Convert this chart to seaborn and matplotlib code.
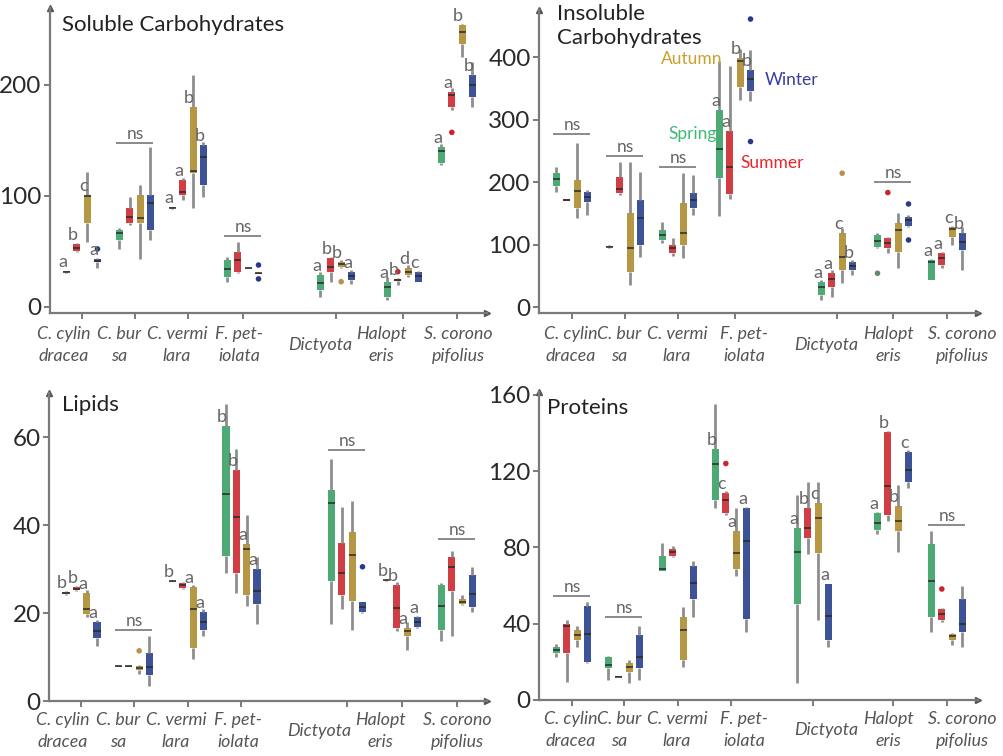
import matplotlib
matplotlib.use("Agg")
import numpy as np
import pandas as pd
import matplotlib.pyplot as plt
import seaborn as sns

sns.set_theme(style="white")
plt.rcParams["font.family"] = ["Lato", "DejaVu Sans"]

# ---------------------------------------------------------------- data
species = ["C. cylindracea", "C. bursa", "C. vermilara", "F. petiolata",
           "Dictyota", "Halopteris", "S. coronopifolius"]
species_ticklabels = ["C. cylin\ndracea", "C. bur\nsa", "C. vermi\nlara", "F. pet-\niolata",
                      "Dictyota", "Halopt\neris", "S. corono\npifolius"]
seasons = ["Spring", "Summer", "Autumn", "Winter"]

# Five-number summaries (whisker low, Q1, median, Q3, whisker high),
# one entry per species x season (Spring, Summer, Autumn, Winter).
sol_lo  = [30.5, 49, 58.6, 34.5,   51.6, 73.6, 42.6, 60,    88, 96, 88.6, 99,      22.5, 30, 33.5, 29,
           9, 22, 35, 20,          6, 19.5, 27, 22,         127.6, 177, 225, 180]
sol_q1  = [31, 50.5, 75.7, 40,     60, 75.7, 75, 69,        88.5, 100.6, 120, 109.6, 27, 31.5, 34, 29.5,
           15, 31, 36, 24,         9, 23, 28.5, 22.5,       129, 180, 237, 189]
sol_med = [31.5, 53, 100, 41,      66, 80.5, 80, 93,        89, 103.6, 122.5, 135,   33.6, 42, 34.5, 30,
           21.6, 36, 38, 27.6,     17.5, 24, 31.5, 27.6,    140, 190.7, 247.7, 199.7]
sol_q3  = [32, 56.5, 101, 42.5,    69, 88.6, 100.6, 100.6,  89.5, 114, 180, 145.6,   42, 49.5, 35, 30.5,
           28.5, 44, 40.5, 31.5,   22.5, 25, 34.6, 31.5,    144, 193.7, 253.8, 208.7]
sol_hi  = [32.5, 57, 121.6, 44,    70.6, 99, 109.6, 143.5,  90, 115.6, 208.7, 148.6, 44.4, 58.6, 36, 31,
           31, 45, 42, 33,         27, 25.5, 37.5, 32,      146.6, 196.7, 255, 220.7]

ins_lo  = [185, 170, 142.6, 148,   95, 180, 35.8, 81,       103.6, 82, 78.5, 148,    146, 173, 332, 329.6,
           11.7, 17, 38.5, 51.7,   94.6, 86.5, 62.5, 128,   43, 63, 100, 59.8]
ins_q1  = [195, 171, 158.7, 169,   96, 183.8, 57, 100,      108, 86.5, 100, 158.7,   206.7, 181.2, 352.5, 347,
           19.7, 33, 59.8, 59.8,   97, 94.6, 89, 130.3,     43.8, 67.8, 113, 91.8]
ins_med = [205.7, 172, 186.4, 176, 97, 189, 94.6, 142.6,    116, 94.6, 118.6, 172,   253, 224, 394.8, 365,
           33, 45, 81, 66.7,       106.7, 103.6, 124, 140,  72, 78.5, 125.5, 105]
ins_q3  = [214.7, 173, 204, 185,   98, 209.4, 150.6, 172,   124, 100, 166.7, 183.8,  316, 281.6, 399, 380,
           41, 54.5, 118.6, 73,    115.9, 110.6, 134.6, 145.2, 75.8, 86.5, 129, 118.6]
ins_hi  = [224, 174, 262.8, 188,   99, 232.4, 232.4, 217.4, 137, 110.6, 214.7, 212,  393.7, 385.7, 413, 412,
           43.8, 60, 127, 75,      118.6, 113, 150.6, 147,  77, 88.6, 130, 129]

lip_lo  = [24.2, 25, 19, 12.5,     7.7, 7.7, 6.2, 3.3,      27, 25.5, 9.5, 14.7,     29, 24.6, 21.7, 17.6,
           17.6, 20.9, 16.1, 20,   27.3, 16, 11.7, 16.5,    13.6, 14.7, 21.8, 20.2]
lip_q1  = [24.4, 25.2, 19.8, 14.3, 7.8, 7.8, 7, 5.9,        27.1, 25.7, 12.1, 16.2,  33, 29, 24.2, 22,
           27.2, 24.2, 22.8, 20.2, 27.4, 16.5, 14.7, 16.9,  16.1, 25, 22, 21.3]
lip_med = [24.6, 25.5, 21, 16,     7.9, 7.9, 7.6, 7.7,      27.2, 26.3, 20.9, 18,    47, 41.8, 34.5, 25,
           44.9, 29.2, 33.2, 21.3, 27.5, 21.1, 15.8, 18,    21.5, 30.5, 22.6, 24.4]
lip_q3  = [24.8, 26, 24.6, 18,     8, 8, 8, 11,             27.3, 26.8, 26, 20.2,    62.4, 52.5, 35.6, 30.1,
           48, 36, 38.5, 22.4,     27.6, 26.4, 16.5, 19.1,  26.4, 32.7, 23.1, 28.6]
lip_hi  = [25, 26.2, 25.3, 18.4,   8.1, 8.1, 8.2, 14.7,     27.4, 27, 26.4, 20.9,    67.4, 57.3, 42.2, 32.7,
           55, 44, 45.5, 22.6,     27.7, 27, 18, 19.4,      26.8, 34, 24, 30.5]

pro_lo  = [22.7, 9.7, 27.9, 19.2,  10.6, 11.8, 8.8, 10.6,   67.7, 75, 17.5, 43.5,    100.6, 97, 65, 35.7,
           8.8, 76.4, 41.7, 27.9,  86.8, 93.7, 77.6, 111,   35.7, 41, 28.7, 27.9]
pro_q1  = [24.4, 24.4, 31.3, 20,   16.6, 12, 14.9, 16.6,    67.7, 75.5, 21, 53,      105, 98, 68.6, 42.6,
           50.4, 85, 77.2, 31.3,   89.4, 97.1, 88.5, 114.5, 43.5, 41.7, 31.3, 35.7]
pro_med = [26, 39, 34, 34.8,       18.4, 12.3, 17.5, 22.7,  68.6, 77.6, 36.5, 61.6,  123.5, 105, 76.9, 83.3,
           77.6, 90.2, 95.4, 44.3, 92.8, 112.2, 93.7, 120.5, 62.2, 45.2, 33.4, 40]
pro_q3  = [27.9, 40, 36.5, 49.5,   22.7, 12.6, 19.2, 34,    75.5, 79.3, 43.5, 70.3,  131.8, 108.4, 88.5, 100.6,
           90.2, 100.6, 103.2, 60.8, 98, 140.4, 101.5, 130, 81.6, 47.8, 34.8, 53]
pro_hi  = [29.6, 41.7, 39, 51.3,   23, 12.8, 21, 39,        82.4, 80.7, 48.7, 72.9,  155, 109.8, 100.6, 101,
           107.5, 114.5, 114.5, 61, 98.5, 141, 112.7, 131,  88.5, 48, 35, 60]

# Outlying observations: (species index, season, value)
sol_outliers = [(0, "Winter", 52), (3, "Winter", 37.5), (3, "Winter", 25), (4, "Autumn", 22.5),
                (5, "Summer", 31.5), (6, "Summer", 157)]
ins_outliers = [(3, "Winter", 461.5), (3, "Winter", 265.4), (4, "Autumn", 214.7), (5, "Spring", 54.5),
                (5, "Summer", 183.7), (5, "Winter", 165.5), (5, "Winter", 107.8)]
lip_outliers = [(1, "Autumn", 11.4), (4, "Winter", 30.5)]
pro_outliers = [(3, "Summer", 124), (6, "Summer", 58.2)]

# Post-hoc group letters per box (same order as the summaries)
sol_letters = ["a", "b", "c", "a",  "", "", "", "",  "a", "a", "b", "b",  "", "", "", "",
               "a", "b", "b", "a",  "a", "b", "d", "c",  "a", "a", "b", "b"]
ins_letters = ["", "", "", "",  "", "", "", "",  "", "", "", "",  "a", "a", "b", "b",
               "a", "a", "c", "b",  "", "", "", "",  "a", "a", "c", "b"]
lip_letters = ["b", "b", "a", "a",  "", "", "", "",  "b", "", "a", "a",  "b", "b", "a", "a",
               "", "", "", "",  "b", "b", "a", "a",  "", "", "", ""]
pro_letters = ["", "", "", "",  "", "", "", "",  "", "", "", "",  "b", "c", "a", "a",
               "a", "b", "c", "a",  "a", "b", "b", "c",  "", "", "", ""]

# Non-significant seasonal differences: (species index, bar height)
sol_ns = [(1, 147.7), (3, 63.7)]
ins_ns = [(0, 278), (1, 243), (2, 225), (5, 201)]
lip_ns = [(1, 16.2), (4, 57.1), (6, 36.9)]
pro_ns = [(0, 54.7), (1, 43.5), (6, 92)]

# ---------------------------------------------------------------- style / layout
season_colors = {"Spring": "#3dba72", "Summer": "#e8262c", "Autumn": "#c9a030", "Winter": "#2e4aa6"}
outlier_colors = {"Spring": "#5f8a6c", "Summer": "#d0202c", "Autumn": "#b89050", "Winter": "#283a86"}
season_offset = [-15.5, -5.17, 5.17, 15.5]
grey = "#7a7a7a"
text_grey = "#666666"

W, H = 1004, 756
fig = plt.figure(figsize=(W / 100, H / 100), dpi=100)

panels = [
    dict(name="Soluble Carbohydrates", rect=(50, 8, 487, 313), ylim=(-5.7, 269),
         yticks=[0, 100, 200], centers=[32, 85, 138, 193, 286, 353, 407],
         labels_x=[14, 69, 127, 189, 270, 331, 408], label_dy=32,
         stats=(sol_lo, sol_q1, sol_med, sol_q3, sol_hi), outliers=sol_outliers,
         letters=sol_letters, ns=sol_ns, title_xy=(0.027, 0.944)),
    dict(name="Insoluble\nCarbohydrates", rect=(539, 10, 978, 313), ylim=(-9.1, 476),
         yticks=[0, 100, 200, 300, 400], centers=[33, 86, 139, 196, 298, 354, 408],
         labels_x=[32, 80, 138, 205, 287, 349, 423], label_dy=32,
         stats=(ins_lo, ins_q1, ins_med, ins_q3, ins_hi), outliers=ins_outliers,
         letters=ins_letters, ns=ins_ns, title_xy=(0.041, 0.947)),
    dict(name="Lipids", rect=(49, 393, 487, 701), ylim=(0, 70),
         yticks=[0, 20, 40, 60], centers=[32.5, 85, 139, 192.5, 298, 353, 408],
         labels_x=[14, 69, 127, 189, 270, 331, 408], label_dy=30,
         stats=(lip_lo, lip_q1, lip_med, lip_q3, lip_hi), outliers=lip_outliers,
         letters=lip_letters, ns=lip_ns, title_xy=(0.03, 0.961)),
    dict(name="Proteins", rect=(539, 392, 978, 700), ylim=(0, 161.5),
         yticks=[0, 40, 80, 120, 160], centers=[33, 85, 139, 192, 274, 354, 408],
         labels_x=[32, 80, 138, 205, 287, 349, 423], label_dy=30,
         stats=(pro_lo, pro_q1, pro_med, pro_q3, pro_hi), outliers=pro_outliers,
         letters=pro_letters, ns=pro_ns, title_xy=(0.018, 0.948)),
]

for p in panels:
    x0, y0, x1, y1 = p["rect"]
    ax = fig.add_axes([x0 / W, 1 - y1 / H, (x1 - x0) / W, (y1 - y0) / H])
    centers = p["centers"]

    # long-form table: every box contributes its five summary values
    rows = []
    for i in range(28):
        sp, se = divmod(i, 4)
        pos = centers[sp] + season_offset[se]
        for stat in p["stats"]:
            rows.append({"pos": pos, "season": seasons[se], "value": stat[i]})
    df = pd.DataFrame(rows)

    sns.boxplot(data=df, x="pos", y="value", hue="season", hue_order=seasons,
                palette=season_colors, native_scale=True, dodge=False, whis=(0, 100),
                width=0.68, showcaps=False, fliersize=0, legend=False, ax=ax,
                boxprops=dict(linewidth=0),
                whiskerprops=dict(color="#8e8e8e", linewidth=2.0),
                medianprops=dict(color="#2a2a2a", linewidth=1.1))

    out = pd.DataFrame([{"pos": centers[s] + season_offset[seasons.index(se)],
                         "season": se, "value": v} for s, se, v in p["outliers"]])
    sns.scatterplot(data=out, x="pos", y="value", hue="season", palette=outlier_colors,
                    s=16, edgecolor="none", legend=False, ax=ax, zorder=5)

    # group letters above each box
    q3 = p["stats"][3]
    for i, let in enumerate(p["letters"]):
        if not let:
            continue
        sp, se = divmod(i, 4)
        ax.annotate(let, xy=(centers[sp] + season_offset[se], q3[i]), xytext=(-4, 1),
                    textcoords="offset pixels", ha="center", va="bottom",
                    fontsize=13, color=text_grey, zorder=6)

    # "ns" brackets
    for sp, yv in p["ns"]:
        xa = centers[sp] + season_offset[0] - 3
        xb = centers[sp] + season_offset[3] + 3
        ax.plot([xa, xb], [yv, yv], color="#8a8a8a", lw=1.4, solid_capstyle="butt")
        ax.annotate("ns", xy=((xa + xb) / 2, yv), xytext=(0, 1), textcoords="offset pixels",
                    ha="center", va="bottom", fontsize=12.5, color=text_grey)

    ax.set_xlim(0, x1 - x0)
    ax.set_ylim(*p["ylim"])
    ax.set_xlabel("")
    ax.set_ylabel("")
    ax.set_yticks(p["yticks"])
    ax.set_yticklabels([str(t) for t in p["yticks"]], fontsize=17.5, color="#2a2a2a")
    ax.set_xticks(centers)
    ax.set_xticklabels([""] * len(centers))
    ax.tick_params(axis="both", direction="out", length=4.5, width=1.4, color=grey, pad=1.5,
                   bottom=True, left=True)
    for side in ("top", "right"):
        ax.spines[side].set_visible(False)
    for side in ("left", "bottom"):
        ax.spines[side].set_color(grey)
        ax.spines[side].set_linewidth(1.6)
    ax.plot(0, 1, marker="^", ms=5, color="#555555", transform=ax.transAxes, clip_on=False)
    ax.plot(1, 0, marker=">", ms=5, color="#555555", transform=ax.transAxes, clip_on=False)
    ax.set_facecolor("none")

    # species names under the axis
    for lx, lab in zip(p["labels_x"], species_ticklabels):
        ax.annotate(lab, xy=(lx, 0), xycoords=ax.get_xaxis_transform(),
                    xytext=(0, -p["label_dy"]), textcoords="offset pixels",
                    ha="center", va="center", fontsize=12.8, style="italic",
                    color="#555555", linespacing=1.4, annotation_clip=False)

    ax.text(*p["title_xy"], p["name"], transform=ax.transAxes, ha="left", va="center",
            fontsize=16, color="#222222", linespacing=1.25)

    if p["name"].startswith("Insoluble"):
        ax.text(0.417, 0.838, "Autumn", transform=ax.transAxes, ha="right", va="center",
                fontsize=12.5, color="#c9a030")
        ax.text(0.405, 0.591, "Spring", transform=ax.transAxes, ha="right", va="center",
                fontsize=12.5, color="#3dba72")
        ax.text(0.458, 0.495, "Summer", transform=ax.transAxes, ha="left", va="center",
                fontsize=12.5, color="#e8262c")
        ax.text(0.515, 0.769, "Winter", transform=ax.transAxes, ha="left", va="center",
                fontsize=12.5, color="#3a3da0")

fig.savefig("out.png", dpi=100, facecolor="white")
